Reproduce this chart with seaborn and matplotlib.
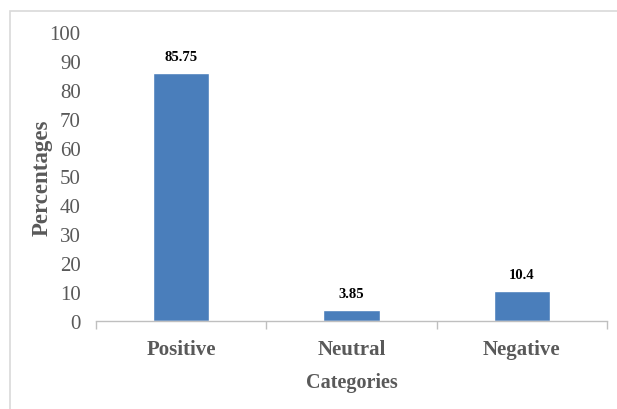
import matplotlib
matplotlib.use("Agg")
import matplotlib.pyplot as plt
from matplotlib.patches import Rectangle
import seaborn as sns
import pandas as pd

categories = ["Positive", "Neutral", "Negative"]
percentages = [85.75, 3.85, 10.4]
value_labels = ["85.75", "3.85", "10.4"]
y_ticks = [0, 10, 20, 30, 40, 50, 60, 70, 80, 90, 100]

sns.set_theme(style="white")
plt.rcParams["font.family"] = ["Liberation Serif", "DejaVu Serif"]

df = pd.DataFrame({"Categories": categories, "Percentages": percentages})

fig = plt.figure(figsize=(6.17, 4.10), dpi=100)
ax = fig.add_axes([96 / 617, 1 - 322 / 410, (607 - 96) / 617, (322 - 33) / 410])

sns.barplot(data=df, x="Categories", y="Percentages", color="#4A7EBB",
            width=0.33, saturation=1, ax=ax)

ax.set_xlim(-0.5, 2.5)
ax.set_ylim(0, 100)
ax.set_yticks(y_ticks)

grey = "#595959"
ax.tick_params(axis="y", length=0, labelsize=15, labelcolor=grey, pad=11)
ax.tick_params(axis="x", which="major", length=0, labelsize=15,
               labelcolor=grey, pad=13)
for lbl in ax.get_xticklabels():
    lbl.set_fontweight("bold")

# category boundary ticks
ax.set_xticks([-0.5, 0.5, 1.5, 2.5], minor=True)
ax.tick_params(axis="x", which="minor", length=6, width=1, color="#BFBFBF",
               bottom=True, direction="out")

for side in ["left", "right", "top"]:
    ax.spines[side].set_visible(False)
ax.spines["bottom"].set_color("#BFBFBF")
ax.spines["bottom"].set_linewidth(1)

ax.set_xlabel("Categories", fontsize=14.5, fontweight="bold", color=grey, labelpad=9)
ax.set_ylabel("Percentages", fontsize=16.5, fontweight="bold", color=grey)
ax.yaxis.set_label_coords(-0.085, 0.5)

for i, (v, t) in enumerate(zip(percentages, value_labels)):
    ax.annotate(t, (i, v), xytext=(0, 7), textcoords="offset points",
                ha="center", va="bottom", fontsize=10.5, fontweight="bold",
                color="black")

# outer chart frame
fig.patches.append(Rectangle((10 / 617, -0.2), 1.2, 1 - 12 / 410 + 0.2,
                             transform=fig.transFigure, fill=False,
                             edgecolor="#D9D9D9", linewidth=1.2))

fig.savefig("out.png", dpi=100)
